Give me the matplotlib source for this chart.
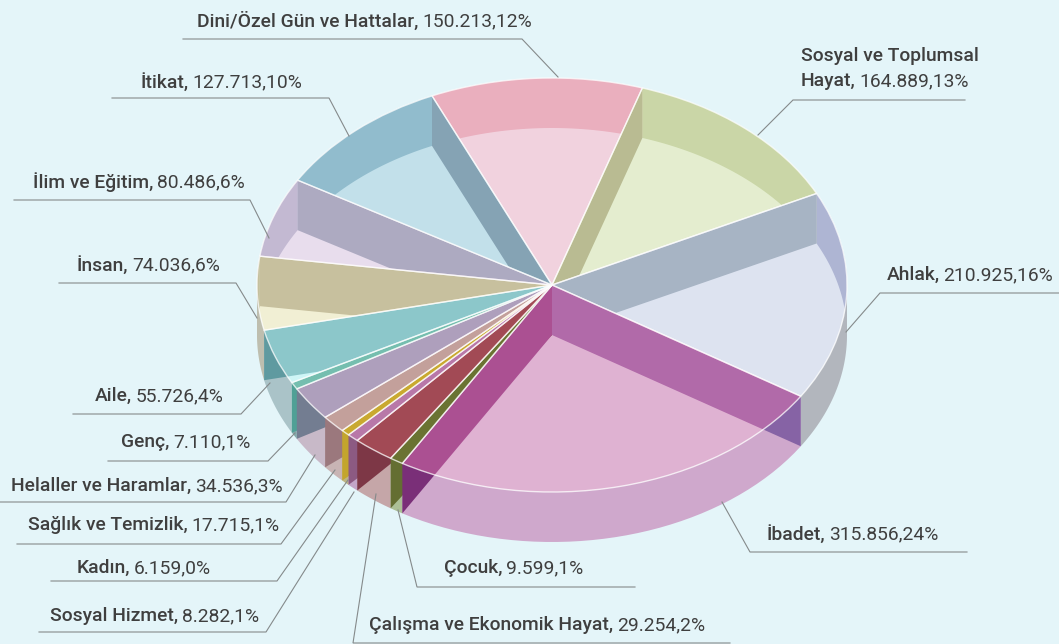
import numpy as np
import matplotlib
matplotlib.use('Agg')
import matplotlib.pyplot as plt
from matplotlib.patches import Polygon

# clockwise from the top
names = ['Dini/Özel Gün ve Hattalar', 'Sosyal ve Toplumsal\nHayat', 'Ahlak', 'İbadet', 'Çocuk',
         'Çalışma ve Ekonomik Hayat', 'Sosyal Hizmet', 'Kadın', 'Sağlık ve Temizlik',
         'Helaller ve Haramlar', 'Genç', 'Aile', 'İnsan', 'İlim ve Eğitim', 'İtikat']
values = [150213, 164889, 210925, 315856, 9599, 29254, 8282, 6159, 17715, 34536, 7110, 55726,
          74036, 80486, 127713]
# translucent top face
top_colors = ['#FFB1C5', '#E4E7A7', '#D8D3E9', '#DC71AD', '#707832', '#C75D64', '#E496CE', '#CFAD31',
              '#EBC8B9', '#E9C1E7', '#9ADCC8', '#B9F5F5', '#FFEBB1', '#ECC7E3', '#A2CDDD']
# outer wall, back half and front half
back_colors = ['#D5ADB7', '#B0C5A7', '#8497BD', '#C0A0C0', '#A0B090', '#C5A6A8', '#C3A5C8', '#BEB482',
               '#C8B4B4', '#C8B9C8', '#82AAAA', '#8FA5A8', '#8B958B', '#9AABC1', '#80ABBD']
front_colors = ['#D5ADB7', '#B0C5A7', '#B2B6BD', '#CFA8CC', '#ACC096', '#C5A6A8', '#C3A5C8', '#BEB482',
                '#C8B4B4', '#C8B9C8', '#82AAAA', '#AAC3C8', '#BEBEAF', '#9AABC1', '#80ABBD']
# cut faces: start walls on the right half, end walls on the left half
start_wall_colors = ['#8E8F7D', '#76959F', '#8663A5']
end_wall_colors = ['#7A2F78', '#646E32', '#7D3746', '#8C5A82', '#C3A52D', '#9B787D', '#737D91',
                   '#50A096', '#5F9AA0', '#8F958B', '#6E8D9F', '#68798B']

BG = '#E4F5F9'
W, H = 1059, 644
CX, CY, RX, RY, DEPTH = 552, 285, 295, 207, 50
START = 114
dz = DEPTH / RY

fig = plt.figure(figsize=(W / 100, H / 100), dpi=100, facecolor=BG)
ax = fig.add_axes([0, 0, 1, 1])

# top face, squeezed into an ellipse by the axes limits
top, _ = ax.pie(values, colors=top_colors, startangle=START, counterclock=False,
                center=(0, 0), radius=1,
                wedgeprops=dict(edgecolor=(1, 1, 1, 0.75), linewidth=1))
for w in top:
    f = w.get_facecolor()
    w.set_facecolor((f[0], f[1], f[2], 0.5))
    w.set_zorder(5)
ax.set_aspect('auto')
ax.set_xlim(-CX / RX, (W - CX) / RX)
ax.set_ylim((CY - H) / RY, CY / RY)
ax.axis('off')

edges = START - np.cumsum([0] + values) / sum(values) * 360


def outer_wall(a, b, c, z):
    t = np.radians(np.linspace(a, b, 40))
    x, y = np.cos(t), np.sin(t)
    pts = np.r_[np.c_[x, y], np.c_[x, y - dz][::-1]]
    ax.add_patch(Polygon(pts, closed=True, fc=c, ec='none', zorder=z))


def inner_wall(t, c):
    x, y = np.cos(np.radians(t)), np.sin(np.radians(t))
    pts = [(0, 0), (x, y), (x, y - dz), (0, -dz)]
    ax.add_patch(Polygon(pts, closed=True, fc=c, ec='none', zorder=3))


# outer wall, split in a back part and a front part
for i in range(len(values)):
    a, b = edges[i], edges[i + 1]   # a > b
    for lo, hi, c, z in [(0, 180, back_colors[i], 2), (-180, 0, front_colors[i], 2.5),
                         (-540, -180, back_colors[i], 2)]:
        s, e = min(a, hi), max(b, lo)
        if s > e:
            outer_wall(s, e, c, z)

# back ones first, the front wedges cover them
right = [t for t in edges[:-1] if np.cos(np.radians(t)) > 0]
left = [t for t in edges[1:] if np.cos(np.radians(t)) < 0]
for t, c in zip(right, start_wall_colors):
    inner_wall(t, c)
for t, c in list(zip(left, end_wall_colors))[::-1]:
    inner_wall(t, c)

# labels and leaders, in pixels
ov = fig.add_axes([0, 0, 1, 1])
ov.set_xlim(0, W)
ov.set_ylim(H, 0)
ov.axis('off')

label_xy = [(197, 21), (801, 81), (887, 275), (767, 534), (444, 568), (369, 625), (50, 616),
            (77, 568), (28, 525), (11, 486), (121, 442), (95, 396), (77, 265), (33, 182), (141, 82)]
leaders = [[(183, 39), (522, 39), (558, 77)],
           [(965, 100), (793, 100), (758, 135)],
           [(1059, 293), (880, 293), (846, 332)],
           [(967, 552), (750, 552), (722, 502)],
           [(635, 587), (417, 587), (398, 510)],
           [(730, 643), (353, 643), (376, 494)],
           [(39, 632), (266, 632), (354, 492)],
           [(51, 581), (277, 581), (348, 480)],
           [(17, 544), (281, 544), (335, 470)],
           [(0, 502), (286, 502), (315, 455)],
           [(108, 461), (268, 461), (295, 433)],
           [(73, 414), (241, 414), (270, 383)],
           [(59, 283), (236, 283), (257, 318)],
           [(14, 200), (250, 200), (269, 238)],
           [(112, 98), (329, 98), (349, 136)]]

for pts in leaders:
    xs, ys = zip(*pts)
    ov.plot(xs, ys, color='#858A8B', lw=0.8, solid_joinstyle='miter', clip_on=False)

fig.canvas.draw()
rend = fig.canvas.get_renderer()
total = sum(values)
FS = 13.85
for name, v, (x, y) in zip(names, values, label_xy):
    val = f'{v:,}'.replace(',', '.') + f',{round(v / total * 100)}%'
    if '\n' in name:
        first, name = name.split('\n')
        ov.text(x, y - 25, first, fontsize=FS, family='Roboto', weight='medium',
                color='#3F3F3F', va='center', ha='left')
    t = ov.text(x, y, name + ',', fontsize=FS, family='Roboto', weight='medium',
                color='#3F3F3F', va='center', ha='left')
    bb = t.get_window_extent(rend)
    ov.text(bb.x1 + 3.5, y, val, fontsize=FS, family='Roboto', color='#3F3F3F',
            va='center', ha='left')

fig.savefig('out.png', dpi=100, facecolor=BG)
